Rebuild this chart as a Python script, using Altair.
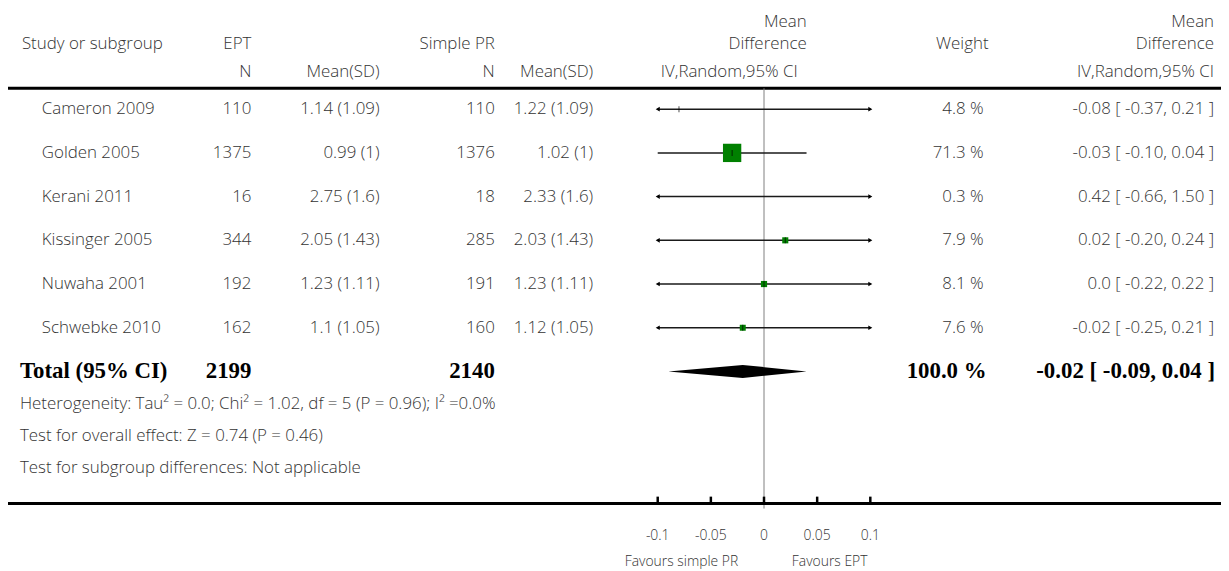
import altair as alt
import pandas as pd

# ---------------- data ----------------
studies = ["Cameron 2009", "Golden 2005", "Kerani 2011", "Kissinger 2005", "Nuwaha 2001", "Schwebke 2010"]
ept_n = ["110", "1375", "16", "344", "192", "162"]
ept_mean_sd = ["1.14 (1.09)", "0.99 (1)", "2.75 (1.6)", "2.05 (1.43)", "1.23 (1.11)", "1.1 (1.05)"]
pr_n = ["110", "1376", "18", "285", "191", "160"]
pr_mean_sd = ["1.22 (1.09)", "1.02 (1)", "2.33 (1.6)", "2.03 (1.43)", "1.23 (1.11)", "1.12 (1.05)"]
weights = [4.8, 71.3, 0.3, 7.9, 8.1, 7.6]
weight_labels = ["4.8 %", "71.3 %", "0.3 %", "7.9 %", "8.1 %", "7.6 %"]
md = [-0.08, -0.03, 0.42, 0.02, 0.0, -0.02]
ci_lo = [-0.37, -0.10, -0.66, -0.20, -0.22, -0.25]
ci_hi = [0.21, 0.04, 1.50, 0.24, 0.22, 0.21]
ci_labels = ["-0.08 [ -0.37, 0.21 ]", "-0.03 [ -0.10, 0.04 ]", "0.42 [ -0.66, 1.50 ]",
             "0.02 [ -0.20, 0.24 ]", "0.0 [ -0.22, 0.22 ]", "-0.02 [ -0.25, 0.21 ]"]

total_label = "Total (95% CI)"
total_n = ["2199", "2140"]
total_md = [-0.02]
total_lo = [-0.09]
total_hi = [0.04]
total_weight_label = "100.0 %"
total_ci_label = "-0.02 [ -0.09, 0.04 ]"

footer_lines = [
    "Heterogeneity: Tau\u00b2 = 0.0; Chi\u00b2 = 1.02, df = 5 (P = 0.96); I\u00b2 =0.0%",
    "Test for overall effect: Z = 0.74 (P = 0.46)",
    "Test for subgroup differences: Not applicable",
]

axis_ticks = [-0.1, -0.05, 0.0, 0.05, 0.1]
axis_tick_labels = ["-0.1", "-0.05", "0", "0.05", "0.1"]
favours_left = "Favours simple PR"
favours_right = "Favours EPT"
AXIS_LIMIT = 0.1

# ---------------- layout ----------------
W, H = 1213, 555
ZERO_PX = 761
PX_PER_UNIT = 1070
ROW0_PY = 100
ROW_STEP = 44
SANS = "Open Sans"
SERIF = "Liberation Serif"
TXT = "#333333"
FS = 17
FW = 300
BFS = 23

x_scale = alt.Scale(domain=[-ZERO_PX / PX_PER_UNIT, (W - ZERO_PX) / PX_PER_UNIT], nice=False, zero=False)
y_scale = alt.Scale(domain=[-ROW0_PY / ROW_STEP, (H - ROW0_PY) / ROW_STEP], nice=False, zero=False, reverse=True)

X = lambda f: alt.X(f, scale=x_scale, axis=None)
Y = lambda f: alt.Y(f, scale=y_scale, axis=None)

n = len(studies)
df = pd.DataFrame({
    "study": studies, "row": list(range(n)),
    "ept_n": ept_n, "ept_msd": ept_mean_sd, "pr_n": pr_n, "pr_msd": pr_mean_sd,
    "weight": weights, "wlab": weight_labels, "cilab": ci_labels,
    "md": md, "lo": ci_lo, "hi": ci_hi,
})
df["lo_c"] = df["lo"].clip(lower=-AXIS_LIMIT, upper=AXIS_LIMIT)
df["hi_c"] = df["hi"].clip(lower=-AXIS_LIMIT, upper=AXIS_LIMIT)

base = alt.Chart(df)


def col_text(field, xpx, align):
    return base.mark_text(align=align, baseline="middle", font=SANS, fontSize=FS, fontWeight=FW,
                          color=TXT).encode(x=alt.value(xpx), y=Y("row:Q"), text=f"{field}:N")


def label(text, xpx, ypx, align="left", font=SANS, size=FS, weight=FW, color=TXT):
    return alt.Chart(pd.DataFrame({"t": [text]})).mark_text(
        align=align, baseline="middle", font=font, fontSize=size, fontWeight=weight, color=color
    ).encode(x=alt.value(xpx), y=alt.value(ypx), text="t:N")


def hline(ypx, width=3):
    return alt.Chart(pd.DataFrame({"a": [0]})).mark_rule(color="black", strokeWidth=width).encode(
        x=alt.value(0), x2=alt.value(W + 8), y=alt.value(ypx))


layers = []

# header
layers += [
    label("Study or subgroup", 14, 34),
    label("EPT", 245, 34, "right"),
    label("Simple PR", 490, 34, "right"),
    label("Mean", 804, 12, "right"),
    label("Difference", 804, 34, "right"),
    label("Weight", 987, 34, "right"),
    label("Mean", 1214, 12, "right"),
    label("Difference", 1214, 34, "right"),
    label("N", 245, 63, "right"),
    label("Mean(SD)", 374, 63, "right"),
    label("N", 490, 63, "right"),
    label("Mean(SD)", 589, 63, "right"),
    label("IV,Random,95% CI", 795, 63, "right"),
    label("IV,Random,95% CI", 1214, 63, "right"),
    hline(79),
]

# study columns
layers += [
    col_text("study", 34, "left"),
    col_text("ept_n", 245, "right"),
    col_text("ept_msd", 374, "right"),
    col_text("pr_n", 490, "right"),
    col_text("pr_msd", 589, "right"),
    col_text("wlab", 982, "right"),
    col_text("cilab", 1214, "right"),
]

# zero line
zero_df = pd.DataFrame({"x": [0.0]})
layers.append(alt.Chart(zero_df).mark_rule(color="#808080", strokeWidth=1).encode(
    x=X("x:Q"), y=alt.value(79), y2=alt.value(502)))

# CI lines
layers.append(base.mark_rule(color="#1a1a1a", strokeWidth=1.5).encode(
    x=X("lo_c:Q"), x2="hi_c:Q", y=Y("row:Q")))
layers.append(base.transform_filter(f"datum.lo < {-AXIS_LIMIT}").mark_point(
    shape="triangle-left", filled=True, size=22, color="black", opacity=1).encode(
    x=X("lo_c:Q"), y=Y("row:Q")))
layers.append(base.transform_filter(f"datum.hi > {AXIS_LIMIT}").mark_point(
    shape="triangle-right", filled=True, size=22, color="black", opacity=1).encode(
    x=X("hi_c:Q"), y=Y("row:Q")))

# squares (weighted) and centre ticks
in_range = f"abs(datum.md) <= {AXIS_LIMIT}"
layers.append(base.transform_filter(in_range).transform_filter("datum.weight >= 5").mark_square(
    color="#008000", opacity=1).encode(
    x=X("md:Q"), y=Y("row:Q"),
    size=alt.Size("weight:Q", scale=alt.Scale(domain=[0, 71.3], range=[0, 340]), legend=None)))
layers.append(base.transform_filter(in_range).mark_tick(
    color="black", orient="vertical", size=6, thickness=1).encode(x=X("md:Q"), y=Y("row:Q")))

# total row
TOTAL_ROW = n
DH = 0.15
diamond = pd.DataFrame({
    "x": [total_lo[0], total_md[0], total_hi[0]],
    "y": [TOTAL_ROW, TOTAL_ROW - DH, TOTAL_ROW],
    "y2": [TOTAL_ROW, TOTAL_ROW + DH, TOTAL_ROW],
})
layers.append(alt.Chart(diamond).mark_area(color="black", orient="vertical", opacity=1).encode(
    x=X("x:Q"), y=Y("y:Q"), y2="y2:Q"))

total_py = ROW0_PY + ROW_STEP * TOTAL_ROW
layers += [
    label(total_label, 12, total_py, "left", SERIF, BFS, "bold", "black"),
    label(total_n[0], 245, total_py, "right", SERIF, BFS, "bold", "black"),
    label(total_n[1], 490, total_py, "right", SERIF, BFS, "bold", "black"),
    label(total_weight_label, 985, total_py, "right", SERIF, BFS, "bold", "black"),
    label(total_ci_label, 1215, total_py, "right", SERIF, BFS, "bold", "black"),
]

# footer
for i, t in enumerate(footer_lines):
    layers.append(label(t, 12, 397 + 32 * i))

# bottom axis
layers.append(hline(497))
ticks_df = pd.DataFrame({"x": axis_ticks, "lab": axis_tick_labels})
layers.append(alt.Chart(ticks_df).mark_rule(color="black", strokeWidth=2.5).encode(
    x=X("x:Q"), y=alt.value(490), y2=alt.value(497)))
layers.append(alt.Chart(ticks_df).mark_text(font=SANS, fontSize=14, fontWeight=FW, color=TXT,
                                            baseline="middle").encode(
    x=X("x:Q"), y=alt.value(530), text="lab:N"))
layers += [
    label(favours_left, 735, 556, "right", size=14),
    label(favours_right, 789, 556, "left", size=14),
]

chart = alt.layer(*layers).properties(
    width=W, height=H,
    autosize=alt.AutoSizeParams(type="none"),
    padding={"left": 0, "top": 0, "right": 8, "bottom": 8},
    background="white",
).configure_view(stroke=None)

chart.save("out.html", embed_options={"renderer": "svg", "actions": False})
